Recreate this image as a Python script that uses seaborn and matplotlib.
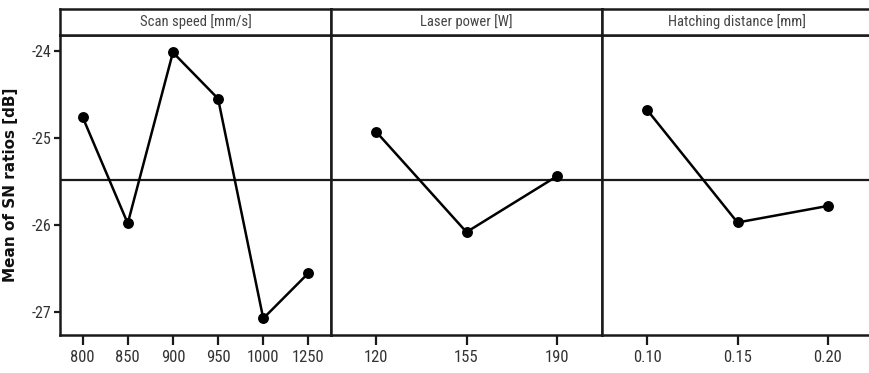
import matplotlib
matplotlib.use("Agg")
import matplotlib.pyplot as plt
from matplotlib import font_manager
import seaborn as sns
import pandas as pd

# Main effects of each process factor on the mean S/N ratio
scan_speed_levels = ["800", "850", "900", "950", "1000", "1250"]
scan_speed_sn = [-24.76, -25.98, -24.02, -24.55, -27.07, -26.55]

laser_power_levels = ["120", "155", "190"]
laser_power_sn = [-24.93, -26.08, -25.44]

hatching_levels = ["0.10", "0.15", "0.20"]
hatching_sn = [-24.68, -25.97, -25.78]

panel_titles = ["Scan speed [mm/s]", "Laser power [W]", "Hatching distance [mm]"]
y_ticks = [-24, -25, -26, -27]
y_label = "Mean of SN ratios [dB]"

sns.set_theme(style="white")
plt.rcParams["font.family"] = ["Liberation Sans", "DejaVu Sans"]


def narrow_font():
    """Pick a condensed/narrow sans face if the system has one."""
    cands = []
    for f in font_manager.fontManager.ttflist:
        nm = f.name.lower()
        st = str(f.stretch).lower()
        is_narrow = ("narrow" in nm or "condensed" in nm or "condensed" in st
                     or (isinstance(f.stretch, int) and f.stretch < 500))
        if is_narrow and str(f.style) == "normal" and f.weight in (400, "normal", "regular", "book"):
            cands.append(f)
    if not cands:
        return font_manager.FontProperties(family=["Liberation Sans", "DejaVu Sans"])
    order = ["liberation sans narrow", "arial narrow", "roboto condensed",
             "open sans condensed", "dejavu sans condensed", "dejavu sans"]
    def rank(f):
        nm = f.name.lower()
        for i, o in enumerate(order):
            if nm == o:
                return i
        return len(order)
    cands.sort(key=rank)
    return font_manager.FontProperties(fname=cands[0].fname)


NARROW = narrow_font()

W, H = 869, 373
fig = plt.figure(figsize=(W / 100, H / 100), dpi=100)

panels = [
    (scan_speed_levels, scan_speed_sn),
    (laser_power_levels, laser_power_sn),
    (hatching_levels, hatching_sn),
]

grand_mean = sum(scan_speed_sn) / len(scan_speed_sn)

left_px = 60.0
panel_w = [271.0, 271.0, 271.0]
top_strip, bottom_strip = 9.0, 35.0
plot_bottom = 335.0

x0 = left_px
edge = "#1a1a1a"
for i, ((levels, vals), title) in enumerate(zip(panels, panel_titles)):
    w = panel_w[i]
    ax = fig.add_axes([x0 / W, (H - plot_bottom) / H, w / W, (plot_bottom - bottom_strip) / H])
    df = pd.DataFrame({"level": levels, "sn": vals})
    ax.axhline(grand_mean, color=edge, lw=1.6, zorder=1)
    sns.pointplot(data=df, x="level", y="sn", order=levels, color="black",
                  markers="o", markersize=6.5, linewidth=1.8, ax=ax, zorder=3)
    ax.set_xlim(-0.5, len(levels) - 0.5)
    ax.set_ylim(-27.26, -23.82)
    ax.set_xlabel("")
    ax.set_ylabel("")
    for s in ax.spines.values():
        s.set_visible(True)
        s.set_color(edge)
        s.set_linewidth(1.8)
    ax.tick_params(axis="x", which="major", bottom=True, length=7.5, width=1.6,
                   color=edge, labelcolor="#333333", pad=3)
    for lab in ax.get_xticklabels():
        lab.set_fontproperties(NARROW)
        lab.set_fontsize(12)
    if i == 0:
        ax.set_yticks(y_ticks)
        ax.set_yticklabels([str(t) for t in y_ticks])
        ax.tick_params(axis="y", left=True, length=4.5, width=1.6, color=edge,
                       labelcolor="#333333", pad=2)
        for lab in ax.get_yticklabels():
            lab.set_fontproperties(NARROW)
            lab.set_fontsize(11.5)
        ax.set_ylabel(y_label, fontsize=11, fontweight="bold",
                      family=["DejaVu Sans"], color="#111111")
        ax.yaxis.set_label_coords(-42.0 / w, 0.5)
    else:
        ax.set_yticks([])

    # header strip above each panel
    sax = fig.add_axes([x0 / W, (H - bottom_strip) / H, w / W, (bottom_strip - top_strip) / H])
    sax.set_xticks([])
    sax.set_yticks([])
    for s in sax.spines.values():
        s.set_visible(True)
        s.set_color(edge)
        s.set_linewidth(1.8)
    sax.text(0.5, 0.5, title, ha="center", va="center", fontproperties=NARROW,
             fontsize=10.5, color="#444444", transform=sax.transAxes)
    x0 += w

fig.savefig("out.png", dpi=100)
